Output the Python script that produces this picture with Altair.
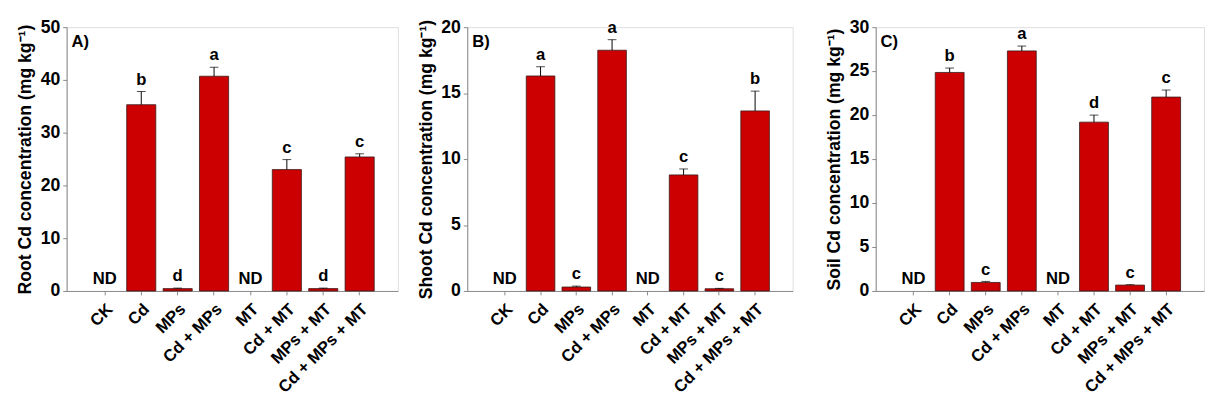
import altair as alt
import pandas as pd

categories = ["CK", "Cd", "MPs", "Cd + MPs", "MT", "Cd + MT", "MPs + MT", "Cd + MPs + MT"]

root_mean = [0, 35.3, 0.45, 40.7, 0, 23.0, 0.45, 25.4]
root_err = [0, 2.5, 0.1, 1.7, 0, 1.9, 0.1, 0.6]
root_letters = ["ND", "b", "d", "a", "ND", "c", "d", "c"]

shoot_mean = [0, 16.3, 0.3, 18.25, 0, 8.8, 0.17, 13.65]
shoot_err = [0, 0.7, 0.07, 0.8, 0, 0.45, 0.03, 1.5]
shoot_letters = ["ND", "a", "c", "a", "ND", "c", "c", "b"]

soil_mean = [0, 24.85, 0.97, 27.3, 0, 19.2, 0.67, 22.05]
soil_err = [0, 0.5, 0.12, 0.55, 0, 0.8, 0.08, 0.8]
soil_letters = ["ND", "b", "c", "a", "ND", "d", "c", "c"]

FONT = "Liberation Sans"
LINE = "#666666"


def panel(mean, err, letters, title, tag, ymax, step, width):
    df = pd.DataFrame({
        "cat": categories,
        "mean": mean,
        "upper": [m + e for m, e in zip(mean, err)],
        "letter": letters,
    })
    base = alt.Chart(df)
    xenc = alt.X(
        "cat:N", sort=categories,
        scale=alt.Scale(paddingInner=0.2, paddingOuter=0.65),
        axis=alt.Axis(title=None, labelAngle=-45, labelAlign="right", labelBaseline="top",
                      labelFontSize=17, labelFontWeight="bold", labelFont=FONT,
                      labelPadding=6, tickSize=4, labelLimit=300),
    )
    yscale = alt.Scale(domain=[0, ymax], nice=False, zero=True)
    yaxis = alt.Axis(title=title, values=list(range(0, ymax + 1, step)), grid=False,
                     tickSize=4, labelPadding=3, labelFontSize=18, titleFontSize=18,
                     titlePadding=6, labelFontWeight="bold", titleFontWeight="bold")
    bars = base.transform_filter("datum.mean > 0").mark_bar(
        color="#CC0000", stroke="#3a1a1a", strokeWidth=0.8).encode(
        x=xenc, y=alt.Y("mean:Q", scale=yscale, axis=yaxis))
    errdf = base.transform_filter("datum.upper > datum.mean")
    rule = errdf.mark_rule(color="black", strokeWidth=1).encode(
        x=xenc, y=alt.Y("mean:Q", scale=yscale, axis=yaxis), y2="upper:Q")
    cap = errdf.mark_tick(color="black", thickness=1, size=9).encode(
        x=xenc, y=alt.Y("upper:Q", scale=yscale, axis=yaxis))
    txt = base.mark_text(baseline="bottom", dy=-3, fontSize=17, fontWeight="bold",
                         font=FONT, color="black").encode(
        x=xenc, y=alt.Y("upper:Q", scale=yscale, axis=yaxis), text="letter:N")
    tagc = alt.Chart(pd.DataFrame({"t": [tag]})).mark_text(
        align="left", baseline="top", fontSize=17, fontWeight="bold", font=FONT,
        color="black").encode(x=alt.value(5), y=alt.value(7), text="t:N")
    return alt.layer(bars, rule, cap, txt, tagc).properties(width=width, height=270)


a = panel(root_mean, root_err, root_letters, "Root Cd concentration (mg kg\u207b\u00b9)", "A)", 50, 10, 339)
b = panel(shoot_mean, shoot_err, shoot_letters, "Shoot Cd concentration (mg kg\u207b\u00b9)", "B)", 20, 5, 333)
c = panel(soil_mean, soil_err, soil_letters, "Soil Cd concentration (mg kg\u207b\u00b9)", "C)", 30, 5, 336)

chart = alt.hconcat(alt.hconcat(a, b, spacing=18), c, spacing=32).properties(
    padding={"left": 8, "top": 5, "right": 0, "bottom": 0}
).configure_view(stroke=LINE, strokeWidth=1.2).configure_axis(
    labelFont=FONT, titleFont=FONT, labelFontWeight="bold", titleFontWeight="bold",
    labelColor="black", titleColor="black", domainColor=LINE, tickColor=LINE,
    domainWidth=1.2, tickWidth=1,
).configure(background="white")

chart.save("out.html", embed_options={"renderer": "svg", "actions": False})
